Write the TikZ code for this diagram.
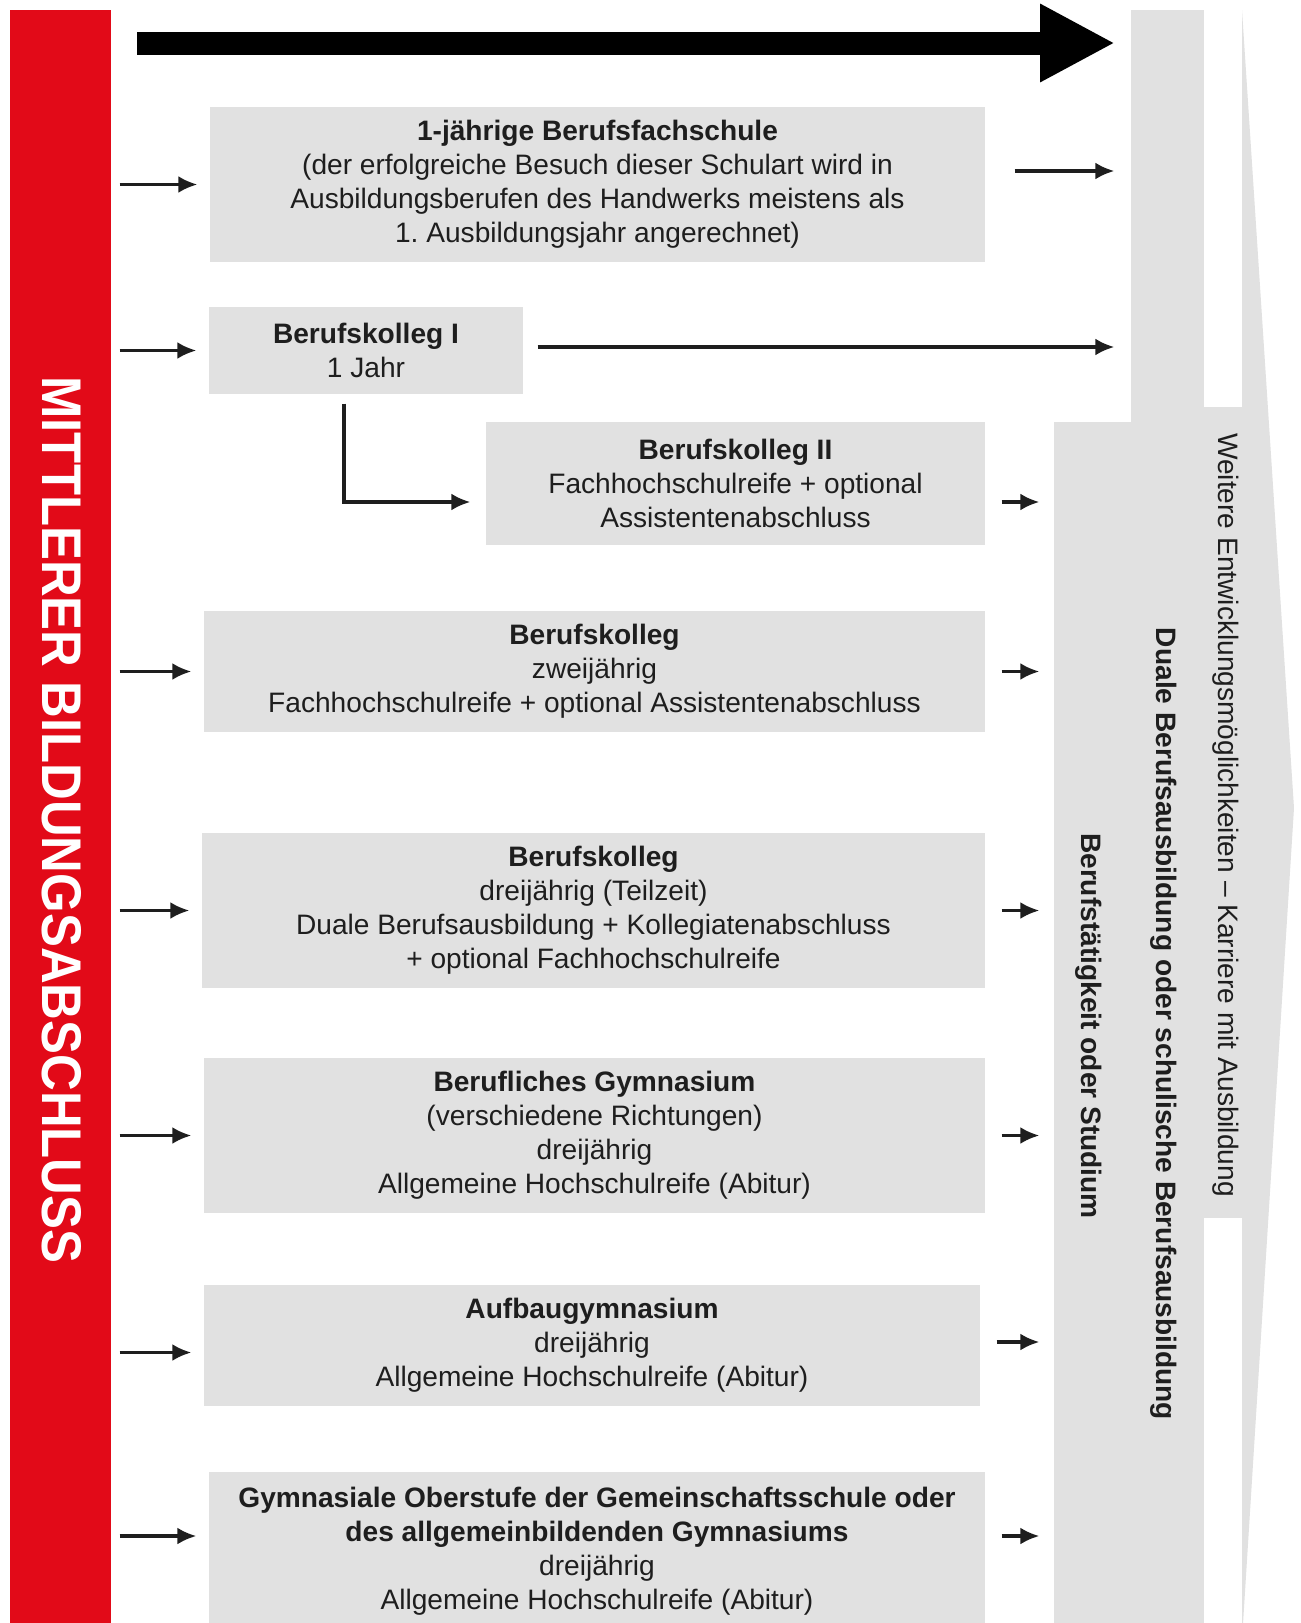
\documentclass[tikz,border=0pt]{standalone}
\usepackage{fontspec}
\setmainfont{Liberation Sans}
\usetikzlibrary{arrows.meta}
\definecolor{barred}{HTML}{E20A18}
\definecolor{boxgray}{HTML}{E1E1E1}
\definecolor{ink}{HTML}{1E1E1E}
\frenchspacing

\begin{document}
\begin{tikzpicture}[x=0.1mm, y=-0.1mm,
  box/.style={fill=boxgray, text=ink, align=center, inner sep=0pt,
    font=\fontsize{8}{9.7}\selectfont},
  band/.style={fill=boxgray, inner sep=0pt},
  bandtext/.style={rotate=-90, text=ink, inner sep=0pt,
    font=\fontsize{8}{9.7}\selectfont},
  arr/.style={-{Latex[length=1.9mm,width=1.7mm]}, line width=0.9pt, ink}]
  \useasboundingbox (0,0) rectangle (1301,1623);
  \clip (0,0) rectangle (1301,1623);

  % bands on the right
  \fill[boxgray] (1242,10) -- (1294,808) -- (1242,1640) -- cycle;
  \fill[boxgray] (1204,407) rectangle (1242,1218);
  \node[band, minimum width=7.3mm, minimum height=163mm] (duale) at (1167.5,825) {};
  \node[band, minimum width=7.8mm, minimum height=121.8mm] (beruf) at (1093,1031) {};
  \node[bandtext, font=\fontsize{8}{9.7}\bfseries\selectfont] at (1089,1026) {Berufstätigkeit oder Studium};
  \node[bandtext, font=\fontsize{8}{9.7}\bfseries\selectfont] at (1164,1024) {Duale Berufsausbildung oder schulische Berufsausbildung};
  \node[bandtext] at (1226,815) {Weitere Entwicklungsmöglichkeiten – Karriere mit Ausbildung};

  % red bar on the left
  \node[fill=barred, inner sep=0pt, minimum width=10.1mm, minimum height=163mm] (bar) at (60.5,825) {};
  \node[rotate=-90, text=white, inner sep=0pt, font=\fontsize{15.9}{18}\bfseries\selectfont]
    at (62,820) {\scalebox{0.91}[1]{MITTLERER BILDUNGSABSCHLUSS}};

  % big arrow on top
  \coordinate (topstart) at (137,43);
  \coordinate (topend) at (1115,43);
  \draw[line width=2.3mm, -{Triangle[length=7.5mm,width=7.3mm]}] (topstart) -- (topend);

  % schools
  \node[box, minimum width=77.5mm, minimum height=15.5mm] (b1) at (597.5,184.5)
    {\textbf{1-jährige Berufsfachschule}\\(der erfolgreiche Besuch dieser Schulart wird in\\Ausbildungsberufen des Handwerks meistens als\\1. Ausbildungsjahr angerechnet)};
  \node[box, minimum width=31.4mm, minimum height=8.7mm] (b2) at (366,350.5)
    {\textbf{Berufskolleg I}\\1 Jahr};
  \node[box, minimum width=49.9mm, minimum height=12.3mm] (b3) at (735.5,483.5)
    {\textbf{Berufskolleg II}\\Fachhochschulreife + optional\\Assistentenabschluss};
  \node[box, minimum width=78.1mm, minimum height=12.1mm] (b4) at (594.5,671.5)
    {\textbf{Berufskolleg}\\zweijährig\\Fachhochschulreife + optional Assistentenabschluss};
  \node[box, minimum width=78.3mm, minimum height=15.5mm] (b5) at (593.5,910.5)
    {\textbf{Berufskolleg}\\dreijährig (Teilzeit)\\Duale Berufsausbildung + Kollegiatenabschluss\\+ optional Fachhochschulreife};
  \node[box, minimum width=78.1mm, minimum height=15.5mm] (b6) at (594.5,1135.5)
    {\textbf{Berufliches Gymnasium}\\(verschiedene Richtungen)\\dreijährig\\Allgemeine Hochschulreife (Abitur)};
  \node[box, minimum width=77.6mm, minimum height=12.1mm] (b7) at (592,1345.5)
    {\textbf{Aufbaugymnasium}\\dreijährig\\Allgemeine Hochschulreife (Abitur)};
  \node[box, minimum width=77.6mm, minimum height=15.8mm] (b8) at (597,1551)
    {\textbf{Gymnasiale Oberstufe der Gemeinschaftsschule oder}\\\textbf{des allgemeinbildenden Gymnasiums}\\dreijährig\\Allgemeine Hochschulreife (Abitur)};

  % arrows in
  \foreach \b in {b1,b2,b4,b5,b6}
    \draw[arr, shorten <=0.8mm, shorten >=1.2mm] (bar.east |- \b.west) -- (\b.west);
  \draw[arr, shorten <=0.8mm, shorten >=1.2mm] ([yshift=-0.7mm]bar.east |- b7.west) -- ([yshift=-0.7mm]b7.west);
  \draw[arr, shorten <=0.8mm, shorten >=1.2mm] ([yshift=1.5mm]bar.east |- b8.west) -- ([yshift=1.5mm]b8.west);
  \draw[arr, shorten <=0.9mm, shorten >=1.5mm] ([xshift=-2.2mm]b2.south) |- ([yshift=-1.85mm]b3.west);

  % arrows out
  \draw[arr, shorten <=2.9mm, shorten >=1.6mm] ([yshift=1.35mm]b1.east) -- ([yshift=1.35mm]b1.east -| duale.west);
  \draw[arr, shorten <=1.4mm, shorten >=1.6mm] ([yshift=0.35mm]b2.east) -- ([yshift=0.35mm]b2.east -| duale.west);
  \draw[arr, shorten <=1.6mm, shorten >=1.4mm] ([yshift=-1.85mm]b3.east) -- ([yshift=-1.85mm]b3.east -| beruf.west);
  \foreach \b in {b4,b5,b6}
    \draw[arr, shorten <=1.6mm, shorten >=1.4mm] (\b.east) -- (\b.east -| beruf.west);
  \draw[arr, shorten <=1.6mm, shorten >=1.4mm] ([yshift=0.35mm]b7.east) -- ([yshift=0.35mm]b7.east -| beruf.west);
  \draw[arr, shorten <=1.6mm, shorten >=1.4mm] ([yshift=1.5mm]b8.east) -- ([yshift=1.5mm]b8.east -| beruf.west);
\end{tikzpicture}
\end{document}
